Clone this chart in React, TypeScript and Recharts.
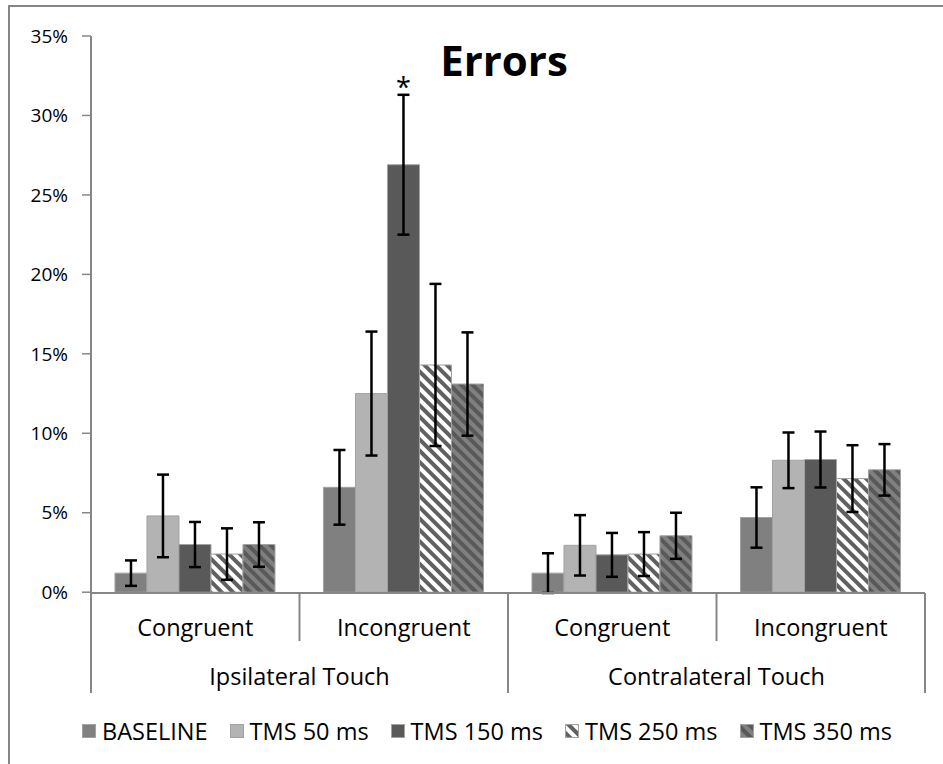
import { BarChart, Bar, XAxis, YAxis, ErrorBar, LabelList } from 'recharts';

// conditions along the x axis, grouped in pairs by touch side
const conditions = ['Congruent', 'Incongruent', 'Congruent', 'Incongruent'];
const touchSides = ['Ipsilateral Touch', 'Contralateral Touch'];

const seriesNames = ['BASELINE', 'TMS 50 ms', 'TMS 150 ms', 'TMS 250 ms', 'TMS 350 ms'];

// error rates (%) and their error bars
const baseline = [1.2, 6.6, 1.2, 4.7];
const baselineErr = [0.8, 2.35, 1.25, 1.9];
const tms50 = [4.8, 12.5, 2.95, 8.3];
const tms50Err = [2.6, 3.9, 1.9, 1.75];
const tms150 = [3.0, 26.9, 2.35, 8.35];
const tms150Err = [1.42, 4.4, 1.38, 1.76];
const tms250 = [2.4, 14.3, 2.4, 7.15];
const tms250Err = [1.62, 5.1, 1.38, 2.1];
const tms350 = [3.0, 13.1, 3.55, 7.7];
const tms350Err = [1.4, 3.25, 1.45, 1.62];

// which TMS 150 ms bars get a significance star
const significant = [false, true, false, false];

const yTicks = [0, 5, 10, 15, 20, 25, 30, 35];

const values = [baseline, tms50, tms150, tms250, tms350];
const errors = [baselineErr, tms50Err, tms150Err, tms250Err, tms350Err];
const fills = ['#808080', '#b3b3b3', '#595959', 'url(#stripeLight)', 'url(#stripeDark)'];

const data = conditions.map((condition, i) => {
  const row: Record<string, string | number> = { condition };
  values.forEach((v, s) => {
    row[`s${s}`] = v[i];
    row[`e${s}`] = errors[s][i];
  });
  return row;
});

const FONT = '"Open Sans", sans-serif';
const AXIS = '#868686';
const LABEL_SIZE = 23.5;

const CHART_W = 943;
const CHART_H = 700;
const MARGIN = { top: 36, right: 18, left: 31, bottom: 7 };
const Y_AXIS_W = 60;
const X_AXIS_H = 100;
const BAND = (CHART_W - MARGIN.left - MARGIN.right - Y_AXIS_W) / conditions.length;

function CategoryTick(props: any) {
  const { x, y, payload } = props;
  const i = payload.index;
  const half = BAND / 2;
  const endOfSide = i % 2 === 1;
  return (
    <g>
      <text x={x} y={y + 34} textAnchor="middle" dominantBaseline="central" fontSize={LABEL_SIZE} fontFamily={FONT} fill="#000">
        {payload.value}
      </text>
      {i === 0 && <line x1={x - half} x2={x - half} y1={y} y2={y + 100} stroke={AXIS} strokeWidth={2} />}
      <line x1={x + half} x2={x + half} y1={y} y2={y + (endOfSide ? 100 : 48)} stroke={AXIS} strokeWidth={2} />
      {endOfSide && (
        <text x={x - half} y={y + 83} textAnchor="middle" dominantBaseline="central" fontSize={LABEL_SIZE} fontFamily={FONT} fill="#000">
          {touchSides[(i - 1) / 2]}
        </text>
      )}
    </g>
  );
}

function Star(props: any) {
  const box = props.viewBox ?? props;
  const { x, y, width, height } = box;
  const i = props.index;
  if (!significant[i]) return null;
  const perUnit = height / tms150[i];
  const top = y - tms150Err[i] * perUnit;
  return (
    <text x={x + width / 2} y={top + 2} textAnchor="middle" fontSize={27} fontFamily={FONT} fill="#000">
      *
    </text>
  );
}

function Patterns() {
  return (
    <svg width={0} height={0} style={{ position: 'absolute' }}>
      <defs>
        <pattern id="stripeLight" patternUnits="userSpaceOnUse" width={8} height={8} patternTransform="rotate(-45)">
          <rect width={8} height={8} fill="#ffffff" />
          <rect width={4} height={8} fill="#606060" />
        </pattern>
        <pattern id="stripeDark" patternUnits="userSpaceOnUse" width={8} height={8} patternTransform="rotate(-45)">
          <rect width={8} height={8} fill="#595959" />
          <rect width={4} height={8} fill="#808080" />
        </pattern>
      </defs>
    </svg>
  );
}

export default function App() {
  return (
    <div style={{ position: 'fixed', left: 0, top: 0, width: 943, height: 764, overflow: 'hidden', background: '#fff' }}>
      <Patterns />
      <div
        style={{
          position: 'absolute',
          left: 8,
          top: 5,
          width: 1000,
          height: 800,
          borderLeft: `2px solid ${AXIS}`,
          borderTop: `2px solid ${AXIS}`,
        }}
      />
      <div style={{ position: 'absolute', left: 0, top: 0 }}>
        <BarChart width={CHART_W} height={CHART_H} data={data} margin={MARGIN} barCategoryGap="11.5%" barGap={0}>
          <XAxis
            dataKey="condition"
            allowDuplicatedCategory
            interval={0}
            height={X_AXIS_H}
            tickSize={0}
            tickMargin={0}
            tickLine={false}
            axisLine={{ stroke: AXIS, strokeWidth: 2 }}
            tick={<CategoryTick />}
          />
          <YAxis
            width={Y_AXIS_W}
            domain={[0, 35]}
            ticks={yTicks}
            interval={0}
            tickSize={9}
            tickMargin={14}
            tickFormatter={(v) => `${v}%`}
            tick={{ fill: '#000', fontSize: 19, fontFamily: FONT }}
            tickLine={{ stroke: AXIS, strokeWidth: 1.5 }}
            axisLine={{ stroke: AXIS, strokeWidth: 2 }}
          />
          {seriesNames.map((name, s) => (
            <Bar key={name} dataKey={`s${s}`} name={name} fill={fills[s]} stroke="#a2a2a2" strokeWidth={1} isAnimationActive={false}>
              <ErrorBar dataKey={`e${s}`} width={6} strokeWidth={2.5} stroke="#000" />
              {s === 2 && <LabelList dataKey="s2" content={<Star />} />}
            </Bar>
          ))}
        </BarChart>
      </div>
      <div
        style={{
          position: 'absolute',
          left: 404,
          top: 31,
          width: 200,
          textAlign: 'center',
          fontFamily: FONT,
          fontWeight: 700,
          fontSize: 42,
          lineHeight: '58px',
        }}
      >
        Errors
      </div>
      <div
        style={{
          position: 'absolute',
          left: 82,
          top: 715,
          display: 'flex',
          gap: 22,
          alignItems: 'center',
          fontFamily: FONT,
          fontSize: LABEL_SIZE,
          lineHeight: '32px',
        }}
      >
        {seriesNames.map((name, s) => (
          <div key={name} style={{ display: 'flex', alignItems: 'center', gap: 6 }}>
            <svg width={14} height={14}>
              <rect x={0.5} y={0.5} width={13} height={13} fill={fills[s]} stroke="#a2a2a2" strokeWidth={1} />
            </svg>
            <span>{name}</span>
          </div>
        ))}
      </div>
    </div>
  );
}
